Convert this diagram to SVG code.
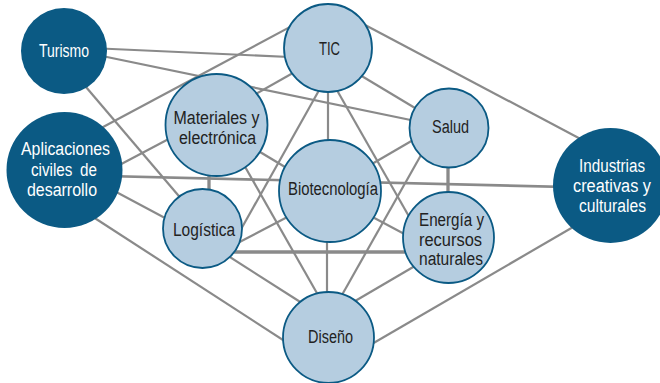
<svg xmlns="http://www.w3.org/2000/svg" width="660" height="383" viewBox="0 0 660 383">
<style>
.e{stroke:#8a8a8a;stroke-width:2.2;fill:none}
.t{stroke-width:3.3}
.d{fill:#0b5a84}
.l{fill:#b5cde0;stroke:#0b5a84;stroke-width:1.8}
text{font-family:"Liberation Sans",Arial,sans-serif;font-size:18px;text-anchor:middle}
.w{fill:#ffffff}
.k{fill:#222222}
</style>
<rect width="660" height="383" fill="#ffffff"/>
<g id="connectors">
<line class="e" x1="90" y1="48" x2="300" y2="57.5"/>
<line class="e" x1="90" y1="53.5" x2="430" y2="124"/>
<line class="e" x1="80" y1="80" x2="195" y2="215"/>
<line class="e" x1="90" y1="134" x2="300" y2="21.6"/>
<line class="e" x1="110" y1="170" x2="180" y2="133"/>
<line class="e" x1="64" y1="175" x2="610" y2="188" style="stroke-width:2.7"/>
<line class="e" x1="105" y1="186" x2="180" y2="226"/>
<line class="e" x1="90" y1="215" x2="300" y2="351"/>
<line class="e" x1="350" y1="17" x2="590" y2="144"/>
<line class="e" x1="340" y1="63" x2="430" y2="117"/>
<line class="e" x1="300" y1="69" x2="245" y2="100"/>
<line class="e" x1="328" y1="85" x2="328" y2="145"/>
<line class="e" x1="322" y1="85" x2="235" y2="240"/>
<line class="e" x1="334" y1="85" x2="415" y2="227"/>
<line class="e" x1="420" y1="136" x2="365" y2="168"/>
<line class="e t" x1="448" y1="160" x2="448" y2="200"/>
<line class="e" x1="425" y1="148" x2="338" y2="302"/>
<line class="e" x1="250" y1="146" x2="295" y2="173"/>
<line class="e t" x1="209" y1="168" x2="209" y2="197"/>
<line class="e" x1="240" y1="158" x2="322" y2="302"/>
<line class="e" x1="365" y1="213" x2="410" y2="237"/>
<line class="e" x1="327" y1="235" x2="327" y2="300"/>
<line class="e" x1="230" y1="247" x2="295" y2="213"/>
<line class="e t" x1="225" y1="252" x2="410" y2="252"/>
<line class="e" x1="222" y1="252" x2="305" y2="305"/>
<line class="e" x1="420" y1="263" x2="350" y2="304"/>
<line class="e" x1="580" y1="223" x2="365" y2="348"/>
</g>
<g id="turismo"><circle class="d" cx="64" cy="51" r="43"/><text class="w" x="64" y="57" textLength="50" lengthAdjust="spacingAndGlyphs">Turismo</text></g>
<g id="aplicaciones"><circle class="d" cx="64.5" cy="170" r="58"/><text class="w" x="65.5" y="155" textLength="89" lengthAdjust="spacingAndGlyphs">Aplicaciones</text><text class="w" x="64" y="176" textLength="66" lengthAdjust="spacingAndGlyphs" word-spacing="4">civiles de</text><text class="w" x="62" y="196" textLength="70" lengthAdjust="spacingAndGlyphs">desarrollo</text></g>
<g id="tic"><circle class="l" cx="328" cy="48" r="44"/><text class="k" x="329.5" y="55" textLength="21" lengthAdjust="spacingAndGlyphs">TIC</text></g>
<g id="materiales"><circle class="l" cx="216.5" cy="125" r="51"/><text class="k" x="216.5" y="124" textLength="86" lengthAdjust="spacingAndGlyphs">Materiales y</text><text class="k" x="217.5" y="144" textLength="77" lengthAdjust="spacingAndGlyphs">electrónica</text></g>
<g id="salud"><circle class="l" cx="449" cy="128" r="39.5"/><text class="k" x="450.5" y="133" textLength="37" lengthAdjust="spacingAndGlyphs">Salud</text></g>
<g id="biotecnologia"><circle class="l" cx="330" cy="191" r="51"/><text class="k" x="333" y="195" textLength="90" lengthAdjust="spacingAndGlyphs">Biotecnología</text></g>
<g id="logistica"><circle class="l" cx="202.5" cy="228.5" r="39.5"/><text class="k" x="204" y="236" textLength="62" lengthAdjust="spacingAndGlyphs">Logística</text></g>
<g id="energia"><circle class="l" cx="448.5" cy="237.5" r="45.5"/><text class="k" x="451.5" y="226" textLength="65" lengthAdjust="spacingAndGlyphs">Energía y</text><text class="k" x="450.5" y="246" textLength="63" lengthAdjust="spacingAndGlyphs">recursos</text><text class="k" x="451" y="265" textLength="64" lengthAdjust="spacingAndGlyphs">naturales</text></g>
<g id="diseno"><circle class="l" cx="328.5" cy="337.5" r="45.5"/><text class="k" x="330.5" y="343" textLength="45" lengthAdjust="spacingAndGlyphs">Diseño</text></g>
<g id="industrias"><circle class="d" cx="610.5" cy="185.5" r="57.5"/><text class="w" x="612" y="172" textLength="66" lengthAdjust="spacingAndGlyphs">Industrias</text><text class="w" x="612" y="192" textLength="78" lengthAdjust="spacingAndGlyphs">creativas y</text><text class="w" x="612.5" y="212" textLength="67" lengthAdjust="spacingAndGlyphs">culturales</text></g>
</svg>
